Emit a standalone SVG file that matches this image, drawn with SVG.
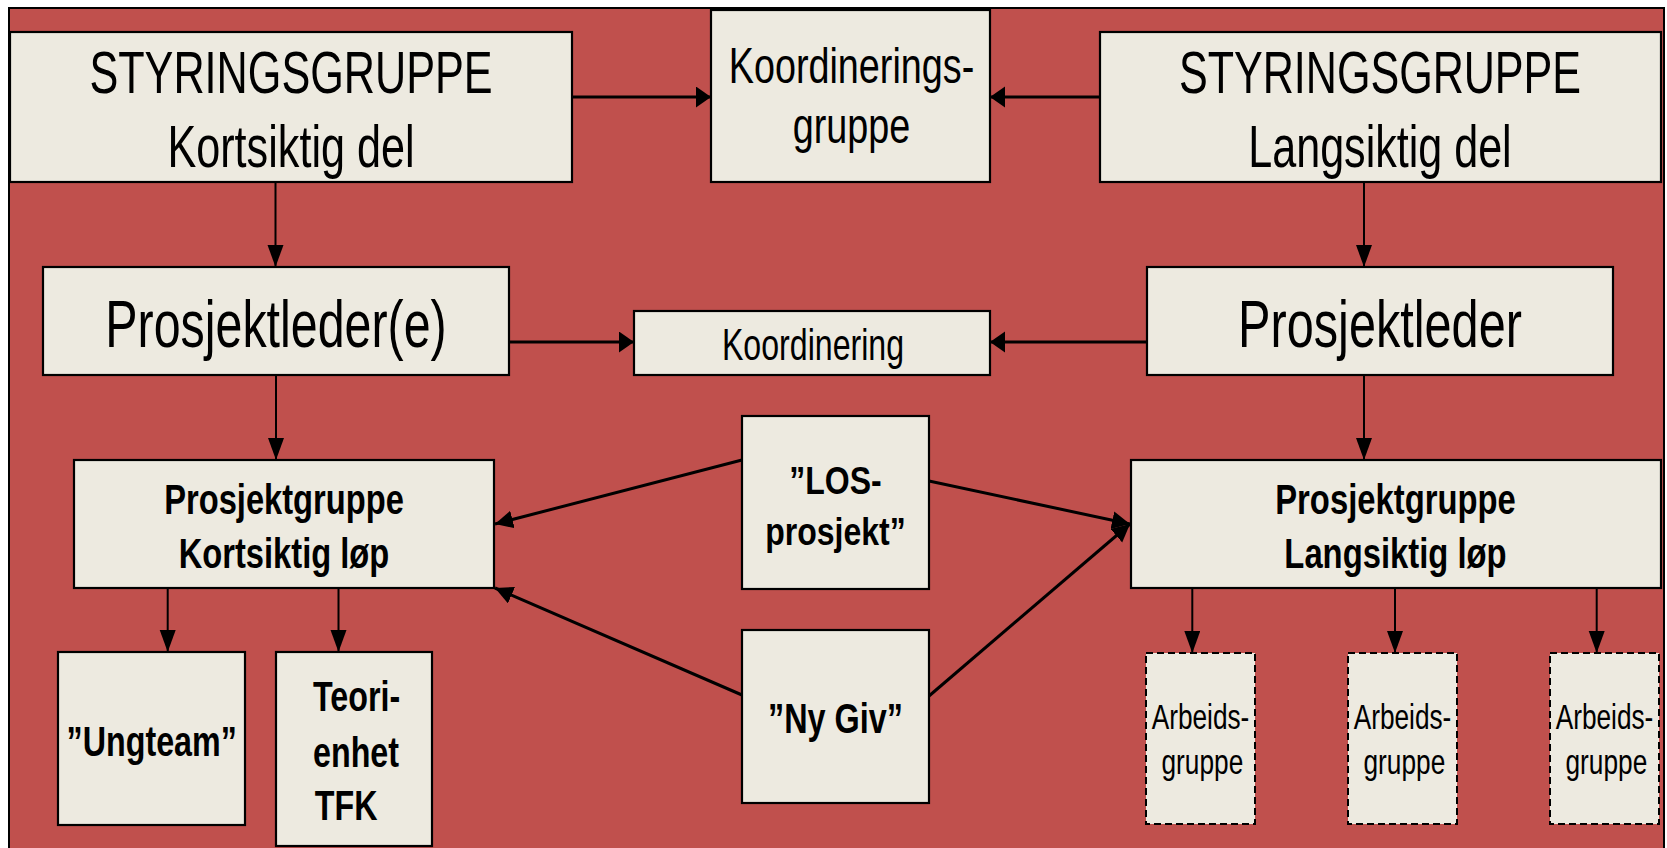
<svg xmlns="http://www.w3.org/2000/svg" width="1667" height="848" viewBox="0 0 1667 848">
<style>
.bg{fill:#C0504D;stroke:#000;stroke-width:2}
.box{fill:#EDEAE0;stroke:#000;stroke-width:2.2}
.dash{fill:#EDEAE0;stroke:#000;stroke-width:2;stroke-dasharray:7 4}
text{font-family:"Liberation Sans",Arial,sans-serif;fill:#000;text-anchor:middle}
.b{font-weight:bold}
.st{text-anchor:start}
.c line{stroke:#000;stroke-width:2}
.c .t{stroke-width:3}
</style>
<defs>
<marker id="ah" markerUnits="userSpaceOnUse" markerWidth="16" markerHeight="22" refX="15" refY="10.5" orient="auto" viewBox="0 0 16 22"><path d="M0,0 L15,10.5 L0,21 z" fill="#000"/></marker>
<marker id="av" markerUnits="userSpaceOnUse" markerWidth="23" markerHeight="17" refX="22" refY="8" orient="auto" viewBox="0 0 23 17"><path d="M0,0 L22,8 L0,16 z" fill="#000"/></marker>
<marker id="ad" markerUnits="userSpaceOnUse" markerWidth="19" markerHeight="19" refX="18" refY="9" orient="auto" viewBox="0 0 19 19"><path d="M0,0 L18,9 L0,18 z" fill="#000"/></marker>
</defs>
<rect x="0" y="0" width="1667" height="848" fill="#fff"/>
<rect class="bg" x="9" y="8" width="1655" height="845"/>
<g class="c" id="connectors">
<line class="t" x1="572" y1="97" x2="711" y2="97" marker-end="url(#ah)"/>
<line class="t" x1="1100" y1="97" x2="990" y2="97" marker-end="url(#ah)"/>
<line x1="275.5" y1="182" x2="275.5" y2="267" marker-end="url(#av)"/>
<line x1="1364" y1="182" x2="1364" y2="267" marker-end="url(#av)"/>
<line class="t" x1="509" y1="342" x2="634" y2="342" marker-end="url(#ah)"/>
<line class="t" x1="1147" y1="342" x2="990" y2="342" marker-end="url(#ah)"/>
<line x1="276" y1="375" x2="276" y2="460" marker-end="url(#av)"/>
<line x1="1364" y1="375" x2="1364" y2="460" marker-end="url(#av)"/>
<line class="t" x1="742" y1="460" x2="495" y2="524" marker-end="url(#ad)"/>
<line class="t" x1="742" y1="695" x2="495" y2="588" marker-end="url(#ad)"/>
<line class="t" x1="929" y1="481" x2="1130" y2="524" marker-end="url(#ad)"/>
<line class="t" x1="929" y1="696" x2="1130" y2="524" marker-end="url(#ad)"/>
<line x1="167.7" y1="588" x2="167.7" y2="652" marker-end="url(#av)"/>
<line x1="338.5" y1="588" x2="338.5" y2="652" marker-end="url(#av)"/>
<line x1="1192.3" y1="588" x2="1192.3" y2="653" marker-end="url(#av)"/>
<line x1="1395" y1="588" x2="1395" y2="653" marker-end="url(#av)"/>
<line x1="1596.7" y1="588" x2="1596.7" y2="653" marker-end="url(#av)"/>
</g>
<g id="styring-kort">
<rect class="box" x="10" y="32" width="562" height="150"/>
<g transform="translate(291 0) scale(0.72 1)">
<text x="0" y="93" font-size="60">STYRINGSGRUPPE</text>
<text x="0" y="167" font-size="60">Kortsiktig del</text>
</g>
</g>
<g id="koordineringsgruppe">
<rect class="box" x="711" y="10" width="279" height="172"/>
<g transform="translate(851.5 0) scale(0.755 1)">
<text x="0" y="83" font-size="50">Koordinerings-</text>
<text x="0" y="143" font-size="50">gruppe</text>
</g>
</g>
<g id="styring-lang">
<rect class="box" x="1100" y="32" width="561" height="150"/>
<g transform="translate(1380 0) scale(0.718 1)">
<text x="0" y="93" font-size="60">STYRINGSGRUPPE</text>
<text x="0" y="167" font-size="60">Langsiktig del</text>
</g>
</g>
<g id="prosjektledere">
<rect class="box" x="43" y="267" width="466" height="108"/>
<text transform="translate(276 0) scale(0.733 1)" x="0" y="347" font-size="66">Prosjektleder(e)</text>
</g>
<g id="koordinering">
<rect class="box" x="634" y="311" width="356" height="64"/>
<text transform="translate(813 0) scale(0.73 1)" x="0" y="360" font-size="44">Koordinering</text>
</g>
<g id="prosjektleder">
<rect class="box" x="1147" y="267" width="466" height="108"/>
<text transform="translate(1380 0) scale(0.737 1)" x="0" y="347" font-size="66">Prosjektleder</text>
</g>
<g id="pg-kort">
<rect class="box" x="74" y="460" width="420" height="128"/>
<g transform="translate(284 0) scale(0.76 1)">
<text class="b" x="0" y="514" font-size="43">Prosjektgruppe</text>
<text class="b" x="0" y="568" font-size="43">Kortsiktig løp</text>
</g>
</g>
<g id="pg-lang">
<rect class="box" x="1131" y="460" width="530" height="128"/>
<g transform="translate(1395.5 0) scale(0.763 1)">
<text class="b" x="0" y="514" font-size="43">Prosjektgruppe</text>
<text class="b" x="0" y="568" font-size="43">Langsiktig løp</text>
</g>
</g>
<g id="los">
<rect class="box" x="742" y="416" width="187" height="173"/>
<g transform="translate(835.5 0) scale(0.843 1)">
<text class="b" x="0" y="494" font-size="38">”LOS-</text>
<text class="b" x="0" y="545" font-size="38">prosjekt”</text>
</g>
</g>
<g id="nygiv">
<rect class="box" x="742" y="630" width="187" height="173"/>
<text class="b" transform="translate(835.5 0) scale(0.753 1)" x="0" y="733" font-size="43">”Ny Giv”</text>
</g>
<g id="ungteam">
<rect class="box" x="58" y="652" width="187" height="173"/>
<text class="b" transform="translate(151.7 0) scale(0.75 1)" x="0" y="756" font-size="43">”Ungteam”</text>
</g>
<g id="teori">
<rect class="box" x="276" y="652" width="156" height="194"/>
<g transform="translate(313 0) scale(0.75 1)">
<text class="b st" x="0" y="711" font-size="43">Teori-</text>
<text class="b st" x="0" y="767" font-size="43">enhet</text>
<text class="b st" x="2.5" y="820" font-size="43">TFK</text>
</g>
</g>
<g id="arbeid1">
<rect class="dash" x="1146" y="653" width="109" height="171"/>
<g transform="translate(1200.5 0) scale(0.75 1)">
<text x="0" y="729" font-size="35">Arbeids-</text>
<text x="2.5" y="774" font-size="35">gruppe</text>
</g>
</g>
<g id="arbeid2">
<rect class="dash" x="1348" y="653" width="109" height="171"/>
<g transform="translate(1402.5 0) scale(0.75 1)">
<text x="0" y="729" font-size="35">Arbeids-</text>
<text x="2.5" y="774" font-size="35">gruppe</text>
</g>
</g>
<g id="arbeid3">
<rect class="dash" x="1550" y="653" width="109" height="171"/>
<g transform="translate(1604.5 0) scale(0.75 1)">
<text x="0" y="729" font-size="35">Arbeids-</text>
<text x="2.5" y="774" font-size="35">gruppe</text>
</g>
</g>
</svg>
